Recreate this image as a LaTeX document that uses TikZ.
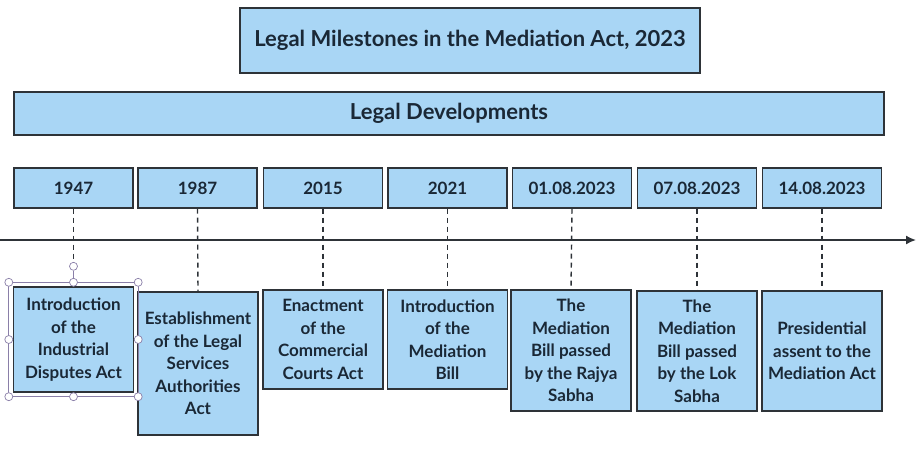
\documentclass[tikz,border=0pt]{standalone}
\usepackage{fontspec}
\setmainfont{Lato}
\usetikzlibrary{arrows.meta}
\definecolor{boxfill}{HTML}{A9D6F5}
\definecolor{ink}{HTML}{1A2836}
\definecolor{edge}{HTML}{2E3338}
\definecolor{handle}{HTML}{8A7FA8}
\begin{document}
\begin{tikzpicture}[x=1pt,y=-1pt,
  box/.style={draw=edge,fill=boxfill,line width=1.4pt,text=ink,inner sep=1pt,align=center},
  datebox/.style={box,minimum width=119pt,minimum height=40pt,font=\bfseries\fontsize{17}{20}\selectfont},
  eventbox/.style={box,minimum width=120pt,font=\bfseries\fontsize{17}{22.5}\selectfont},
  conn/.style={draw=edge,dashed,dash pattern=on 5pt off 4pt,line width=1.4pt},
  hd/.style={circle,draw=handle,fill=white,line width=0.7pt,inner sep=0pt,minimum size=8pt}]
\useasboundingbox (0,0) rectangle (924,455);
% title
\node[box,minimum width=460pt,minimum height=65pt,font=\bfseries\fontsize{22}{26}\selectfont] (title) at (470,40.5) {Legal Milestones in the Mediation Act, 2023};
\node[box,minimum width=870pt,minimum height=43pt,font=\bfseries\fontsize{22}{26}\selectfont] (dev) at (449,113.5) {Legal Developments};
% dates
\node[datebox] (d1) at (73.5,188) {1947};
\node[datebox] (d2) at (197.5,188) {1987};
\node[datebox] (d3) at (323,188) {2015};
\node[datebox] (d4) at (447.5,188) {2021};
\node[datebox] (d5) at (572,188) {01.08.2023};
\node[datebox] (d6) at (697,188) {07.08.2023};
\node[datebox] (d7) at (822,188) {14.08.2023};
% axis
\coordinate (axL) at (0,240);
\coordinate (axR) at (916,240);
\draw[draw=edge,line width=1.6pt,-{Latex[length=10pt,width=9pt]}] (axL) -- (axR);
% events
\node[eventbox,minimum height=105pt] (e1) at (73.5,339.5) {Introduction\\of the\\Industrial\\Disputes Act};
\node[eventbox,minimum height=143pt] (e2) at (198,363.5) {Establishment\\of the Legal\\Services\\Authorities\\Act};
\node[eventbox,minimum height=99pt] (e3) at (323,339.5) {Enactment\\of the\\Commercial\\Courts Act};
\node[eventbox,minimum height=99pt] (e4) at (447.5,339.5) {Introduction\\of the\\Mediation\\Bill};
\node[eventbox,minimum height=121pt] (e5) at (571,350.5) {The\\Mediation\\Bill passed\\by the Rajya\\Sabha};
\node[eventbox,minimum height=120pt] (e6) at (697,351) {The\\Mediation\\Bill passed\\by the Lok\\Sabha};
\node[eventbox,minimum height=120pt] (e7) at (822,351) {Presidential\\assent to the\\Mediation Act};
% connectors
\draw[conn] (d1.south) -- (e1.north);
\draw[conn] (d2.south) -- (e2.north);
\draw[conn] (d3.south) -- (e3.north);
\draw[conn] (d4.south) -- (e4.north);
\draw[conn] (d5.south) -- (e5.north);
\draw[conn] (d6.south) -- (e6.north);
\draw[conn] (d7.south) -- (e7.north);
% selection handles on first event box
\draw[handle,line width=0.7pt] ([xshift=-4pt,yshift=4pt]e1.north west) rectangle ([xshift=4pt,yshift=-4pt]e1.south east);
\node[hd] (h1) at ([xshift=-4pt,yshift=4pt]e1.north west) {};
\node[hd] (h2) at ([yshift=4pt]e1.north) {};
\node[hd] (h3) at ([xshift=4pt,yshift=4pt]e1.north east) {};
\node[hd] (h4) at ([xshift=-4pt]e1.west) {};
\node[hd] (h5) at ([xshift=4pt]e1.east) {};
\node[hd] (h6) at ([xshift=-4pt,yshift=-4pt]e1.south west) {};
\node[hd] (h7) at ([yshift=-4pt]e1.south) {};
\node[hd] (h8) at ([xshift=4pt,yshift=-4pt]e1.south east) {};
\node[hd] (h9) at ([yshift=20pt]e1.north) {};
\draw[handle,line width=0.7pt] (h2) -- (h9);
\end{tikzpicture}
\end{document}
